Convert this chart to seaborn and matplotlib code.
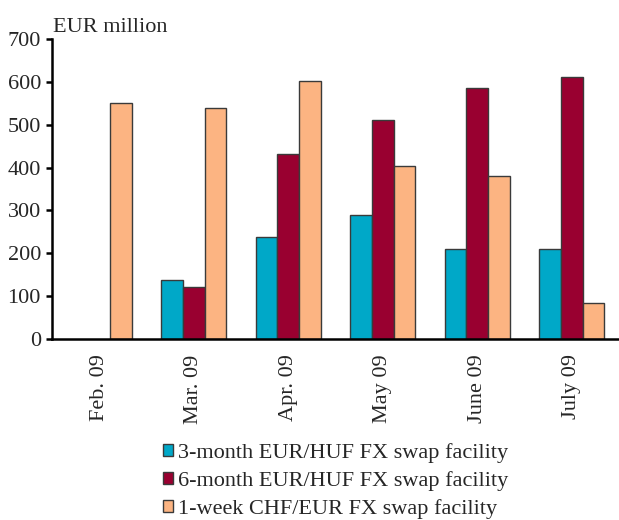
import numpy as np
import pandas as pd
import matplotlib
matplotlib.use("Agg")
import matplotlib.pyplot as plt
import seaborn as sns

months = ["Feb. 09", "Mar. 09", "Apr. 09", "May 09", "June 09", "July 09"]
series = ["3-month EUR/HUF FX swap facility",
          "6-month EUR/HUF FX swap facility",
          "1-week CHF/EUR FX swap facility"]
three_month = [np.nan, 138, 239, 290, 211, 211]
six_month = [np.nan, 122, 432, 512, 586, 612]
one_week = [550, 540, 602, 404, 381, 84]
colors = ["#00A8C8", "#990030", "#FCB482"]

sns.set_style("white")
plt.rcParams["font.family"] = ["Liberation Serif", "DejaVu Serif"]
plt.rcParams["font.size"] = 16

rows = []
for s, vals in zip(series, [three_month, six_month, one_week]):
    for m, v in zip(months, vals):
        rows.append({"month": m, "series": s, "value": v})
df = pd.DataFrame(rows).dropna()

fig = plt.figure(figsize=(6.19, 5.2), dpi=100)
ax = fig.add_axes([52 / 619, 1 - 339 / 520, 1 - 52 / 619, 300 / 520])

sns.barplot(data=df, x="month", y="value", hue="series", order=months,
            hue_order=series, palette=colors, width=0.69, errorbar=None,
            edgecolor="#3a3a3a", linewidth=1.0, ax=ax, saturation=1)

ax.set_xlim(-0.5, 5.5)
ax.set_ylim(0, 700)
ax.set_yticks(range(0, 701, 100))
ax.set_xlabel("")
ax.set_ylabel("")
for sp in ["top", "right"]:
    ax.spines[sp].set_visible(False)
for sp in ["left", "bottom"]:
    ax.spines[sp].set_linewidth(1.8)
    ax.spines[sp].set_color("black")

ax.set_xticks(range(len(months)))
ax.set_xticklabels(months, rotation=90, va="top", ha="center")
ax.set_xticks(np.arange(0.5, 5.0, 1.0), minor=True)
ax.tick_params(axis="x", which="major", length=0, pad=11, labelsize=16)
ax.tick_params(axis="x", which="minor", length=6, width=1.8, direction="out", color="black")
ax.tick_params(axis="y", which="major", length=4, width=1.8, direction="out",
               pad=4, labelsize=16, left=True, color="black")

fig.text(53 / 619, 1 - 32 / 520, "EUR million", fontsize=16, ha="left", va="baseline")

leg = ax.legend(loc="center", bbox_to_anchor=(335.5 / 619, 1 - 481 / 520),
                bbox_transform=fig.transFigure, frameon=False, fontsize=16,
                handlelength=0.45, handleheight=0.45, handletextpad=0.25,
                labelspacing=0.36, borderpad=0)

fig.savefig("out.png", dpi=100)
